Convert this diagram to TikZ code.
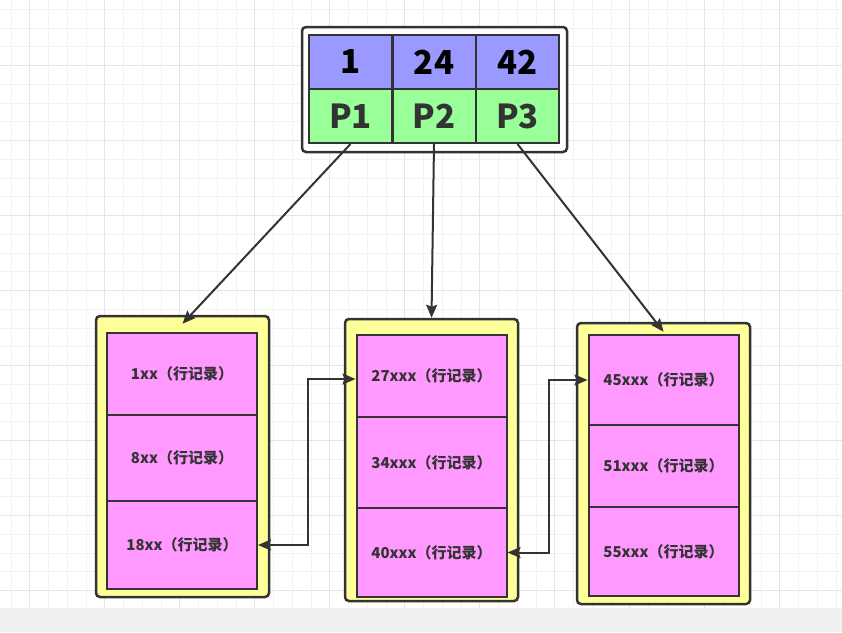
\documentclass[tikz,border=0pt]{standalone}
\usepackage{fontspec}
\setmainfont{Noto Sans CJK SC}
\usetikzlibrary{arrows.meta}

\definecolor{ink}{HTML}{333333}
\definecolor{keyblue}{HTML}{9999FF}
\definecolor{ptrgreen}{HTML}{99FF99}
\definecolor{rowpink}{HTML}{FF99FF}
\definecolor{leafyellow}{HTML}{FFFF99}
\definecolor{gridminor}{HTML}{F2F2F2}
\definecolor{gridmajor}{HTML}{E5E5E5}
\definecolor{stripgray}{HTML}{F0F0F0}

\begin{document}
\begin{tikzpicture}[x=1pt, y=-1pt,
	outer/.style={draw=ink, line width=2.5pt, rounded corners=4pt, inner sep=0pt},
	key/.style={draw=ink, line width=2pt, fill=keyblue, minimum width=83pt, minimum height=54pt, inner sep=0pt, font=\fontsize{33}{37}\selectfont\bfseries},
	ptr/.style={key, fill=ptrgreen, text=ink},
	row/.style={draw=ink, line width=2pt, fill=rowpink, minimum width=150pt, inner sep=0pt, text=ink, font=\fontsize{15}{18}\selectfont\bfseries},
	link/.style={draw=ink, line width=2pt, -{Stealth[length=13pt,width=11pt,inset=2pt]}},
	twoway/.style={link, {Stealth[length=13pt,width=11pt,inset=2pt]}-{Stealth[length=13pt,width=11pt,inset=2pt]}},
]
		\useasboundingbox (0,0) rectangle (842,632);

		% background grid
		\foreach \i in {0,...,44} \draw[gridminor, line width=1pt] ({11+18.75*\i},0) -- ({11+18.75*\i},608);
		\foreach \j in {0,...,31} \draw[gridminor, line width=1pt] (0,{9.3+18.75*\j}) -- (842,{9.3+18.75*\j});
		\foreach \i in {0,...,10} \draw[gridmajor, line width=1pt] ({29.7+75*\i},0) -- ({29.7+75*\i},608);
		\foreach \j in {0,...,7} \draw[gridmajor, line width=1pt] (0,{65.7+75*\j}) -- (842,{65.7+75*\j});
		\fill[stripgray] (0,608) rectangle (842,632);

		% root page
		\draw (434.5,89.5) node [outer, fill=white, minimum width=265pt, minimum height=125pt] (root) {};
		\draw (350.5,62) node [key] (k1) {1};
		\draw (434,62) node [key] (k2) {24};
		\draw (517.5,62) node [key] (k3) {42};
		\draw (350.5,116) node [ptr] (p1) {P1};
		\draw (434,116) node [ptr] (p2) {P2};
		\draw (517.5,116) node [ptr] (p3) {P3};

		% leaf pages
		\draw (182.5,456.5) node [outer, fill=leafyellow, minimum width=173pt, minimum height=281pt] (leafA) {};
		\draw (182,374) node [row, minimum height=82pt] (a1) {1xx（行记录）};
		\draw (182,458) node [row, minimum height=86pt] (a2) {8xx（行记录）};
		\draw (182,545) node [row, minimum height=88pt] (a3) {18xx（行记录）};

		\draw (431.5,460) node [outer, fill=leafyellow, minimum width=173pt, minimum height=282pt] (leafB) {};
		\draw (431.5,376) node [row, minimum height=82pt] (b1) {27xxx（行记录）};
		\draw (431.5,462.5) node [row, minimum height=91pt] (b2) {34xxx（行记录）};
		\draw (431.5,552.5) node [row, minimum height=89pt] (b3) {40xxx（行记录）};

		\draw (663.5,463.5) node [outer, fill=leafyellow, minimum width=173pt, minimum height=281pt] (leafC) {};
		\draw (663.5,380) node [row, minimum height=90pt] (c1) {45xxx（行记录）};
		\draw (663.5,466) node [row, minimum height=82pt] (c2) {51xxx（行记录）};
		\draw (663.5,551.5) node [row, minimum height=89pt] (c3) {55xxx（行记录）};

		\draw[link] (p1.south) -- ([yshift=-9pt]leafA.north);
		\draw[link] (p2.south) -- (leafB.north);
		\draw[link] (p3.south) -- ([yshift=-10pt]leafC.north);

		\draw[twoway] (a3.east) -- ++(50,0) |- ([yshift=-3pt]b1.west);
		\draw[twoway] (b3.east) -- ++(41,0) |- (c1.west);
	\end{tikzpicture}
\end{document}
